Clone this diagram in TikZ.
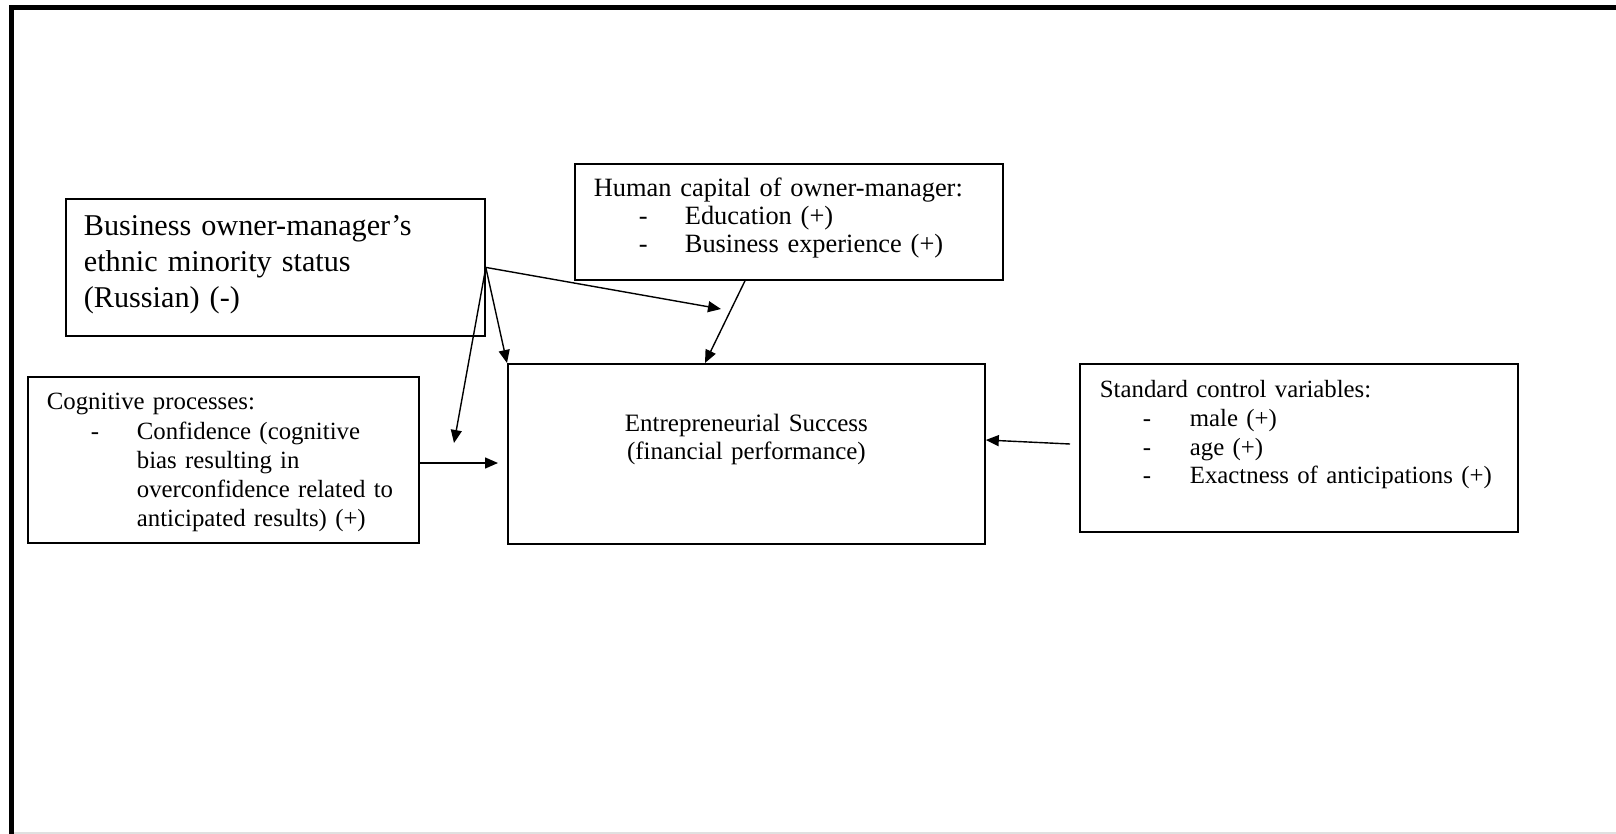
\documentclass[tikz,border=0pt]{standalone}
\usepackage{fontspec}
\setmainfont{Liberation Serif}
\usetikzlibrary{arrows.meta, calc}

% dash of a list item: #1 indent of the dash, #2 indent of the item text
\newcommand{\dashitem}[2]{\makebox[#2][l]{\hspace*{#1}-}}

\begin{document}
\begin{tikzpicture}[x=0.5pt, y=-0.5pt,
    box/.style={draw, line width=0.9pt, rectangle, anchor=north west, inner ysep=0pt, align=left},
    link/.style={-{Triangle[length=6.5pt,width=5.5pt]}, line width=0.7pt}]
    \useasboundingbox (0,0) rectangle (1616,834);

    % Page frame
    \draw[line width=2.5pt] (11.5,834) -- (11.5,7.5) -- (1616,7.5);
    \draw[black!12, line width=1pt] (14,833) -- (1616,833);

    % Boxes
    \node[box, inner xsep=9pt, text width=191.5pt, text height=18.5pt, text depth=50pt,
          font=\fontsize{15.1pt}{18pt}\selectfont] (owner) at (65,198)
        {Business owner-manager's\\ethnic minority status\\(Russian) (-)};

    \node[box, inner xsep=9.5pt, text width=195pt, text height=16.5pt, text depth=41.5pt,
          font=\fontsize{13.2pt}{14pt}\selectfont] (human) at (574,163)
        {Human capital of owner-manager:\\
         \dashitem{22.5pt}{45.5pt}Education (+)\\
         \dashitem{22.5pt}{45.5pt}Business experience (+)};

    \node[box, inner xsep=9.5pt, text width=176.5pt, text height=16.5pt, text depth=66.5pt,
          font=\fontsize{12.4pt}{14.6pt}\selectfont] (cog) at (27,376)
        {Cognitive processes:\\
         \dashitem{22pt}{45pt}Confidence (cognitive\\
         \hspace*{45pt}bias resulting in\\
         \hspace*{45pt}overconfidence related to\\
         \hspace*{45pt}anticipated results) (+)};

    \node[box, align=center, inner xsep=0pt, text width=238.5pt, text height=34pt, text depth=56pt,
          font=\fontsize{12.5pt}{14pt}\selectfont] (success) at (507,363)
        {Entrepreneurial Success\\(financial performance)};

    \node[box, inner xsep=10pt, text width=199pt, text height=17pt, text depth=67pt,
          font=\fontsize{12.4pt}{14.3pt}\selectfont] (control) at (1079,363)
        {Standard control variables:\\
         \dashitem{21.5pt}{45pt}male (+)\\
         \dashitem{21.5pt}{45pt}age (+)\\
         \dashitem{21.5pt}{45pt}Exactness of anticipations (+)};

    % Free ends of the arrows
    \coordinate (ownerhum) at (721,309);
    \coordinate (ownercog) at (454,443);
    \coordinate (cogend) at (498,463);
    \coordinate (ctrlstart) at (1070,444);

    % Arrows
    \draw[link] (owner.east) -- (ownerhum);
    \draw[link] (owner.east) -- (success.north west);
    \draw[link] (owner.east) -- (ownercog);
    \draw[link] ([xshift=85.5pt]human.south west) -- ([xshift=99pt]success.north west);
    \draw[link] (cog.east |- cogend) -- (cogend);
    \draw[link] (ctrlstart) -- (success.east |- 0,440);
\end{tikzpicture}
\end{document}
